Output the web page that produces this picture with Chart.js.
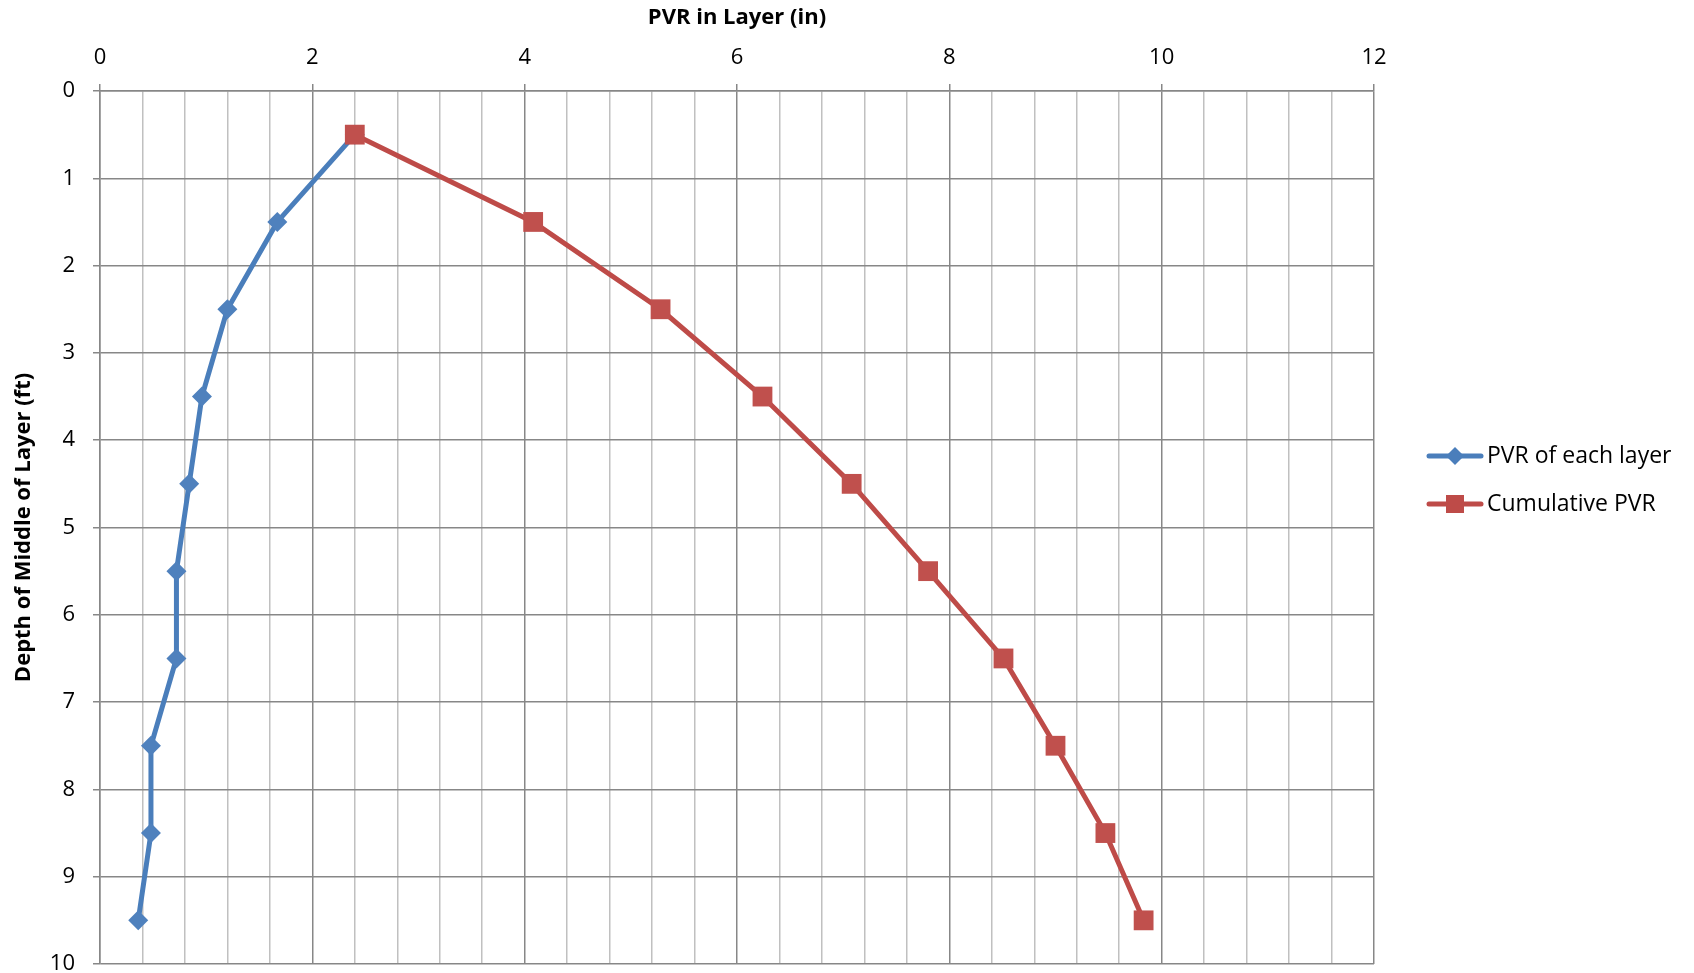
<!DOCTYPE html>
<html>
<head>
<meta charset="utf-8">
<script src="https://cdn.jsdelivr.net/npm/chart.js@4/dist/chart.umd.min.js"></script>
<style>
  html, body { margin: 0; padding: 0; background: #fff; overflow: hidden; }
  #wrap { width: 1694px; height: 978px; position: relative; }
</style>
</head>
<body>
<div id="wrap"><canvas id="pvrChart"></canvas></div>
<script>
// depth of the middle of each layer (ft)
const depths = [0.5, 1.5, 2.5, 3.5, 4.5, 5.5, 6.5, 7.5, 8.5, 9.5];
// PVR of each layer (in)
const pvrLayer = [2.40, 1.67, 1.20, 0.96, 0.84, 0.72, 0.72, 0.48, 0.48, 0.36];
// cumulative PVR (in)
const pvrCumulative = [2.40, 4.08, 5.28, 6.24, 7.08, 7.80, 8.51, 9.00, 9.47, 9.83];

const seriesNames = ['PVR of each layer', 'Cumulative PVR'];
const xTitle = 'PVR in Layer (in)';
const yTitle = 'Depth of Middle of Layer (ft)';

const blue = '#4A7EBB';
const red = '#BE4B48';
const majorGrid = '#878787';
const minorGrid = '#c0c0c0';
const FONT = "'Open Sans', sans-serif";

const isMajor = v => Math.abs(v / 2 - Math.round(v / 2)) < 1e-6;

// Excel-style legend: short line with the marker in the middle
const sideLegend = {
    id: 'sideLegend',
    afterDraw(chart) {
        const c = chart.ctx;
        const rows = [
            { name: seriesNames[0], color: blue, shape: 'diamond', y: 456 },
            { name: seriesNames[1], color: red, shape: 'square', y: 504 }
        ];
        c.save();
        rows.forEach(r => {
            c.strokeStyle = r.color;
            c.lineWidth = 5;
            c.lineCap = 'round';
            c.beginPath();
            c.moveTo(1429, r.y);
            c.lineTo(1481, r.y);
            c.stroke();
            c.fillStyle = r.color;
            c.beginPath();
            if (r.shape === 'diamond') {
                c.moveTo(1455, r.y - 9);
                c.lineTo(1464, r.y);
                c.lineTo(1455, r.y + 9);
                c.lineTo(1446, r.y);
                c.closePath();
            } else {
                c.rect(1446, r.y - 9, 18, 18);
            }
            c.fill();
            c.fillStyle = '#000';
            c.font = '23px ' + FONT;
            c.textAlign = 'left';
            c.textBaseline = 'middle';
            c.fillText(r.name, 1487, r.y);
        });
        c.restore();
    }
};

const ctx = document.getElementById('pvrChart').getContext('2d');
const pvrChart = new Chart(ctx, {
    type: 'scatter',
    data: {
        datasets: [{
            label: seriesNames[0],
            data: depths.map((d, i) => ({ x: pvrLayer[i], y: d })),
            showLine: true,
            borderColor: blue,
            borderWidth: 5,
            backgroundColor: '#4F81BD',
            pointBackgroundColor: '#4F81BD',
            pointBorderWidth: 0,
            pointStyle: 'rectRot',
            pointRadius: 10,
            order: 2
        }, {
            label: seriesNames[1],
            data: depths.map((d, i) => ({ x: pvrCumulative[i], y: d })),
            showLine: true,
            borderColor: red,
            borderWidth: 5,
            backgroundColor: '#C0504D',
            pointBackgroundColor: '#C0504D',
            pointBorderWidth: 0,
            pointStyle: 'rect',
            pointRadius: 14,
            order: 1
        }]
    },
    options: {
        responsive: true,
        maintainAspectRatio: false,
        animation: false,
        layout: { padding: { left: 0, top: 0, right: 320, bottom: 6 } },
        plugins: {
            legend: { display: false },
            tooltip: { enabled: false }
        },
        scales: {
            x: {
                type: 'linear',
                position: 'top',
                min: 0,
                max: 12,
                afterFit: s => {
                    s.height = 91;
                    s.paddingLeft = 0;
                    s.paddingRight = 0;
                },
                ticks: {
                    stepSize: 0.4,
                    autoSkip: false,
                    maxTicksLimit: 40,
                    maxRotation: 0,
                    padding: 13,
                    color: '#000',
                    font: { family: FONT, size: 22 },
                    callback: v => isMajor(v) ? Math.round(v) : ''
                },
                grid: {
                    color: c => isMajor(c.tick.value) ? majorGrid : minorGrid,
                    tickColor: c => isMajor(c.tick.value) ? majorGrid : 'rgba(0,0,0,0)',
                    lineWidth: 1.5,
                    tickLength: 7
                },
                border: { color: majorGrid, width: 1.5 },
                title: {
                    display: true,
                    text: xTitle,
                    color: '#000',
                    font: { family: FONT, size: 22, weight: 'bold' },
                    padding: { top: 5, bottom: 0 }
                }
            },
            y: {
                type: 'linear',
                reverse: true,
                min: 0,
                max: 10,
                afterFit: s => {
                    s.width = 100;
                    s.paddingTop = 0;
                    s.paddingBottom = 0;
                },
                ticks: {
                    stepSize: 1,
                    padding: 18,
                    color: '#000',
                    font: { family: FONT, size: 22 }
                },
                grid: {
                    color: majorGrid,
                    lineWidth: 1.5,
                    tickLength: 7
                },
                border: { color: majorGrid, width: 1.5 },
                title: {
                    display: true,
                    text: yTitle,
                    color: '#000',
                    font: { family: FONT, size: 22, weight: 'bold' },
                    padding: { top: 11, bottom: 0 }
                }
            }
        }
    },
    plugins: [sideLegend]
});
</script>
</body>
</html>
